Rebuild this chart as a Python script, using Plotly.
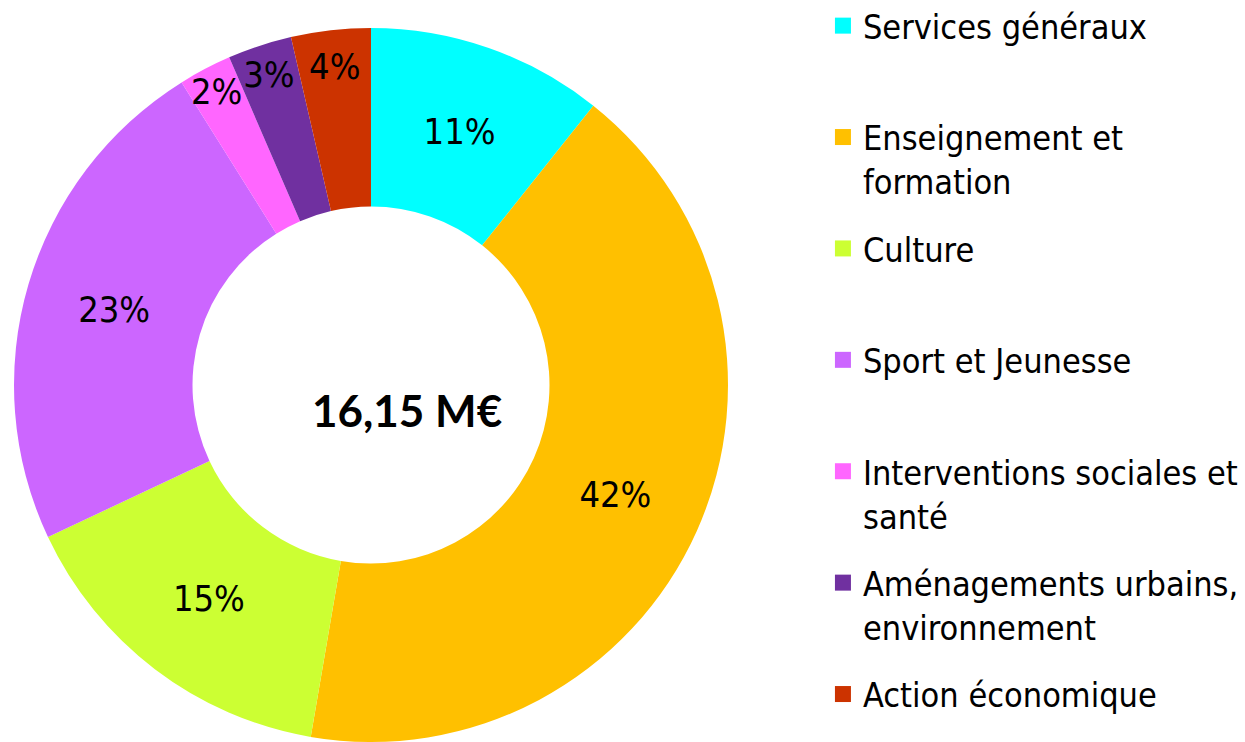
import plotly.graph_objects as go

# categories and shares (%)
labels = ["Services généraux", "Enseignement et<br>formation", "Culture",
          "Sport et Jeunesse", "Interventions sociales et<br>santé",
          "Aménagements urbains,<br>environnement", "Action économique"]
shares = [10.7, 42.0, 15.3, 23.1, 2.4, 2.9, 3.6]
colors = ["#00FFFF", "#FFC000", "#CCFF33", "#CC66FF", "#FF66FF", "#7030A0", "#CC3300"]
total_label = "16,15 M€"

narrow = "Liberation Sans Narrow, Arial Narrow, DejaVu Sans Condensed, sans-serif"

fig = go.Figure()

fig.add_trace(go.Pie(
    labels=[l.replace("<br>", " ") for l in labels],
    values=shares,
    hole=0.5,
    sort=False,
    direction="clockwise",
    rotation=0,
    marker=dict(colors=colors, line=dict(width=0)),
    texttemplate="%{percent:.0%}",
    textposition="inside",
    insidetextorientation="horizontal",
    textfont=dict(family=narrow, size=36, color="black"),
    domain=dict(x=[14 / 1245, 728 / 1245], y=[0, 714 / 742]),
    showlegend=False,
))

# legend entries: one group per category so the gap between them can be set,
# single-line names padded to two lines like the original legend
for i, (lab, col) in enumerate(zip(labels, colors)):
    name = lab if ("<br>" in lab or i == len(labels) - 1) else lab + "<br> "
    fig.add_trace(go.Scatter(x=[None], y=[None], mode="markers", name=name,
                             legendgroup=str(i), showlegend=True, hoverinfo="skip",
                             marker=dict(symbol="square", size=16, color=col)))

fig.add_annotation(x=0.327, y=0.447, xref="paper", yref="paper", xanchor="center", yanchor="middle",
                   text="<b>" + total_label + "</b>", showarrow=False,
                   font=dict(family="Lato, Carlito, Calibri, sans-serif", size=44, color="black"))

fig.update_xaxes(visible=False)
fig.update_yaxes(visible=False)
fig.update_layout(
    width=1245, height=742,
    margin=dict(l=0, r=0, t=0, b=0, autoexpand=False),
    paper_bgcolor="white", plot_bgcolor="white",
    uniformtext=dict(minsize=36, mode="show"),
    legend=dict(x=0.661, xanchor="left", y=1.004, yanchor="top", valign="top",
                tracegroupgap=20, traceorder="grouped", maxheight=760,
                font=dict(family=narrow, size=34, color="black"),
                bgcolor="rgba(0,0,0,0)"),
)

fig.write_html("out.html", config={"displayModeBar": False},
               post_script="document.body.style.margin='0';")
